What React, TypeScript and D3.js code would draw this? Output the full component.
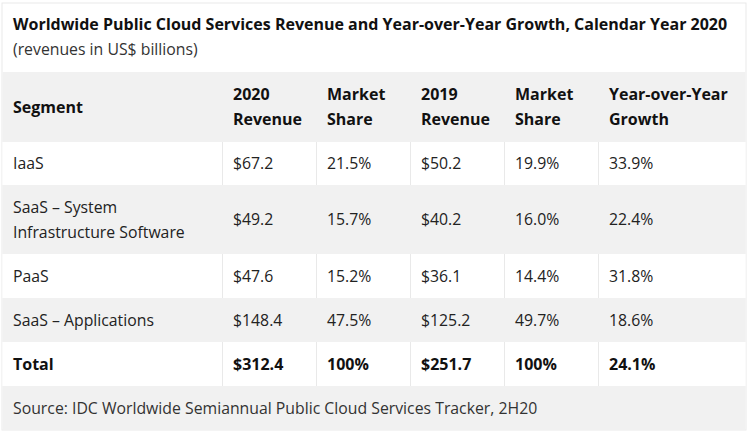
import React, { useEffect, useRef } from "react";
import * as d3 from "d3";

const title = "Worldwide Public Cloud Services Revenue and Year-over-Year Growth, Calendar Year 2020";
const subtitle = "(revenues in US$ billions)";
const source = "Source: IDC Worldwide Semiannual Public Cloud Services Tracker, 2H20";

const headers = [
  ["Segment"],
  ["2020", "Revenue"],
  ["Market", "Share"],
  ["2019", "Revenue"],
  ["Market", "Share"],
  ["Year-over-Year", "Growth"],
];

const segments = [
  ["IaaS"],
  ["SaaS – System", "Infrastructure Software"],
  ["PaaS"],
  ["SaaS – Applications"],
];
const revenue2020 = [67.2, 49.2, 47.6, 148.4];
const share2020 = [21.5, 15.7, 15.2, 47.5];
const revenue2019 = [50.2, 40.2, 36.1, 125.2];
const share2019 = [19.9, 16.0, 14.4, 49.7];
const growth = [33.9, 22.4, 31.8, 18.6];

const totalLabel = "Total";
const totalRevenue2020 = 312.4;
const totalShare2020 = 100;
const totalRevenue2019 = 251.7;
const totalShare2019 = 100;
const totalGrowth = 24.1;

const W = 750;
const H = 435;

export default function App() {
  const ref = useRef<SVGSVGElement | null>(null);

  useEffect(() => {
    const svg = d3.select(ref.current);
    svg.selectAll("*").remove();

    const font = "'Open Sans', sans-serif";
    const textColor = "#222";
    const gray = "#f1f1f1";
    const line = "#e9e9e9";
    const fs = 15.8;

    const left = 2;
    const right = 746;
    const top = 3;
    const bottom = 430;

    const colEdges = [left, 222, 316, 410, 504, 598, right];
    const padX = 11;

    const rowEdges = [72, 142, 185, 254, 298, 342, 386, bottom];
    const rowFill = [gray, "#fff", gray, "#fff", gray, "#fff", gray];

    const fmtMoney = d3.format("$.1f");
    const fmtPct = (v: number) => (v === 100 ? "100%" : d3.format(".1f")(v) + "%");

    svg.append("rect").attr("x", left).attr("y", top).attr("width", right - left).attr("height", bottom - top)
      .attr("fill", "#fff").attr("stroke", line).attr("stroke-width", 1);

    svg.append("text").attr("x", 13).attr("y", 30).attr("font-family", font).attr("font-size", 16)
      .attr("font-weight", 700).attr("fill", "#111").text(title);
    svg.append("text").attr("x", 13).attr("y", 55).attr("font-family", font).attr("font-size", fs)
      .attr("fill", "#333").text(subtitle);

    const rows = d3.range(rowEdges.length - 1);
    svg.selectAll("rect.row").data(rows).enter().append("rect")
      .attr("class", "row")
      .attr("x", left + 0.5)
      .attr("y", (i) => rowEdges[i])
      .attr("width", right - left - 1)
      .attr("height", (i) => rowEdges[i + 1] - rowEdges[i])
      .attr("fill", (i) => rowFill[i]);

    rows.forEach((i) => {
      if (rowFill[i] === "#fff" && i < rowEdges.length - 2) {
        const y0 = rowEdges[i];
        const y1 = rowEdges[i + 1];
        colEdges.slice(1, -1).forEach((x) => {
          svg.append("line").attr("x1", x + 0.5).attr("x2", x + 0.5).attr("y1", y0).attr("y2", y1)
            .attr("stroke", line).attr("stroke-width", 1);
        });
      }
    });

    const lineH = 25;
    const drawCell = (col: number, row: number, lines: string[], bold: boolean, color = textColor) => {
      const cy = (rowEdges[row] + rowEdges[row + 1]) / 2;
      const x = colEdges[col] + padX;
      const t = svg.append("text").attr("font-family", font).attr("font-size", bold ? 16 : fs)
        .attr("font-weight", bold ? 700 : 400).attr("fill", color);
      const n = lines.length;
      lines.forEach((s, k) => {
        t.append("tspan").attr("x", x)
          .attr("y", cy + (k - (n - 1) / 2) * lineH)
          .attr("dy", "0.35em").text(s);
      });
    };

    headers.forEach((h, c) => drawCell(c, 0, h, true, "#111"));

    segments.forEach((seg, r) => {
      const row = r + 1;
      drawCell(0, row, seg, false);
      drawCell(1, row, [fmtMoney(revenue2020[r])], false);
      drawCell(2, row, [fmtPct(share2020[r])], false);
      drawCell(3, row, [fmtMoney(revenue2019[r])], false);
      drawCell(4, row, [fmtPct(share2019[r])], false);
      drawCell(5, row, [fmtPct(growth[r])], false);
    });

    const tr = segments.length + 1;
    drawCell(0, tr, [totalLabel], true, "#111");
    drawCell(1, tr, [fmtMoney(totalRevenue2020)], true, "#111");
    drawCell(2, tr, [fmtPct(totalShare2020)], true, "#111");
    drawCell(3, tr, [fmtMoney(totalRevenue2019)], true, "#111");
    drawCell(4, tr, [fmtPct(totalShare2019)], true, "#111");
    drawCell(5, tr, [fmtPct(totalGrowth)], true, "#111");

    drawCell(0, tr + 1, [source], false, "#333");
  }, []);

  return (
    <svg ref={ref} width={W} height={H} style={{ position: "absolute", left: 0, top: 0, display: "block" }} />
  );
}
